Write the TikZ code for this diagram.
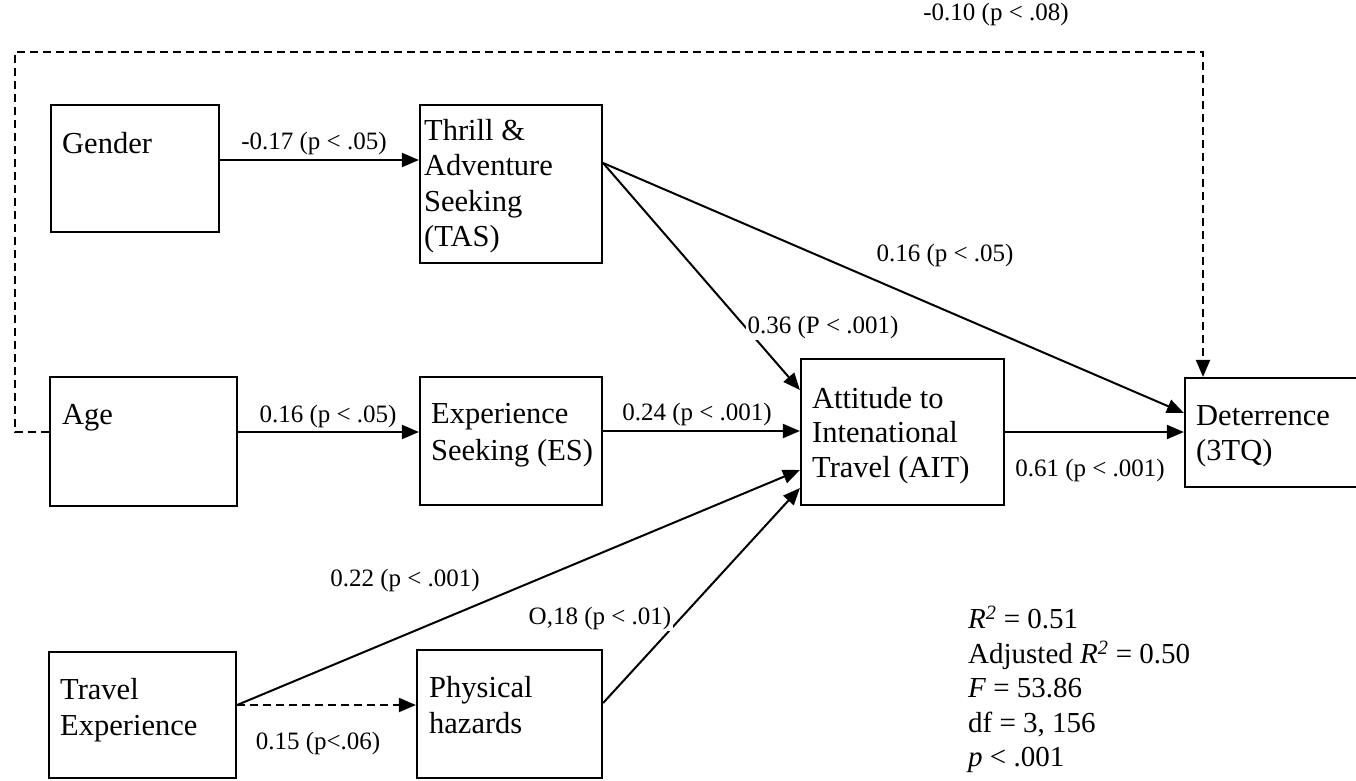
\documentclass[tikz,border=0pt]{standalone}
\usepackage{fontspec}
\setmainfont{Liberation Serif}
\usetikzlibrary{arrows.meta}
\newcommand\fstrut{\rule{0pt}{23pt}}
\newcommand\sstrut{\rule{0pt}{22pt}}
\begin{document}
\begin{tikzpicture}[x=1pt,y=-1pt,
  bx/.style={draw,line width=2.2pt,inner sep=0pt},
  btxt/.style={font=\fontsize{30.5}{35.5}\selectfont,align=left,inner sep=0pt,anchor=north west},
  lab/.style={font=\fontsize{25}{30}\selectfont,inner sep=1pt},
  arr/.style={line width=2pt,-{Triangle[length=17pt,width=14pt]}},
  dsh/.style={dash pattern=on 8pt off 5pt}]
\useasboundingbox (0,0) rectangle (1356,780);
% boxes
\node[bx,minimum width=168pt,minimum height=127pt] (gender) at (135,168.5) {};
\node[bx,minimum width=182pt,minimum height=158pt] (tas) at (511,184) {};
\node[bx,minimum width=187pt,minimum height=129pt] (age) at (143.5,441.5) {};
\node[bx,minimum width=182pt,minimum height=128pt] (es) at (511,441) {};
\node[bx,minimum width=187pt,minimum height=126pt] (te) at (142.5,715) {};
\node[bx,minimum width=185pt,minimum height=128pt] (ph) at (509.5,714) {};
\node[bx,minimum width=203pt,minimum height=146pt] (ait) at (902.5,432) {};
\node[bx,minimum width=185pt,minimum height=109pt] (det) at (1277.5,432.5) {};
% box texts
\node[btxt] (tgender) at (62,130) {\fstrut Gender};
\node[btxt] (ttas) at (424,117) {\fstrut Thrill \&\\Adventure\\Seeking\\(TAS)};
\node[btxt] (tage) at (62,401) {\fstrut Age};
\node[btxt,font=\fontsize{30.5}{37}\selectfont] (tes) at (431,400) {\fstrut Experience\\Seeking (ES)};
\node[btxt,font=\fontsize{30.5}{36}\selectfont] (tte) at (60,676) {\fstrut Travel\\Experience};
\node[btxt,font=\fontsize{30.5}{36}\selectfont] (tph) at (429,674) {\fstrut Physical\\hazards};
\node[btxt,font=\fontsize{30.5}{34.5}\selectfont] (tait) at (812,385) {\fstrut Attitude to\\Intenational\\Travel (AIT)};
\node[btxt,font=\fontsize{30.5}{35}\selectfont] (tdet) at (1196,402) {\fstrut Deterrence\\(3TQ)};
% dashed feedback path
\coordinate (lb) at (15,432);
\coordinate (lt) at (15,52);
\coordinate (rt) at (1203,52);
\draw[arr,dsh] ([yshift=9.5pt]age.west) -- (lb) -- (lt) -- (rt) -- (rt |- det.north);
% connectors
\draw[arr] ([yshift=8.5pt]gender.east) -- ([yshift=24pt]tas.west);
\draw[arr] ([yshift=9.5pt]age.east) -- ([yshift=9pt]es.west);
\draw[arr] ([yshift=10pt]es.east) -- ([yshift=1pt]ait.west);
\draw[arr] (ait.east) -- (det.west |- ait.east);
\draw[arr] ([yshift=21pt]tas.east) -- ([yshift=19.5pt]det.west);
\draw[arr] ([yshift=21pt]tas.east) -- ([yshift=42pt]ait.west);
\draw[arr] ([yshift=10pt]te.east) -- ([yshift=-38pt]ait.west);
\draw[arr,dsh] ([yshift=10pt]te.east) -- ([yshift=9pt]ph.west);
\draw[arr] ([yshift=11pt]ph.east) -- ([yshift=-56pt]ait.west);
% labels
\node[lab] (l1) at (314,143) {-0.17 (p < .05)};
\node[lab] (l2) at (328,416) {0.16 (p < .05)};
\node[lab] (l3) at (697,414) {0.24 (p < .001)};
\node[lab] (l4) at (1090,470) {0.61 (p < .001)};
\node[lab] (l5) at (945,255) {0.16 (p < .05)};
\node[lab,fill=white,inner sep=2pt] (l6) at (823,327) {0.36 (P < .001)};
\node[lab] (l7) at (405,580) {0.22 (p < .001)};
\node[lab] (l8) at (318,743) {0.15 (p<.06)};
\node[lab,fill=white,inner sep=2pt] (l9) at (600,618) {O,18 (p < .01)};
\node[lab] (l10) at (996,14) {-0.10 (p < .08)};
% statistics
\node[font=\fontsize{29}{34.5}\selectfont,align=left,inner sep=0pt,anchor=north west] (stats) at (968,606)
 {\sstrut\textit{R}\textsuperscript{\textit{2}} = 0.51\\
  Adjusted \textit{R}\textsuperscript{\textit{2}} = 0.50\\
  \textit{F} = 53.86\\
  df = 3, 156\\
  \textit{p} < .001};
\end{tikzpicture}
\end{document}
